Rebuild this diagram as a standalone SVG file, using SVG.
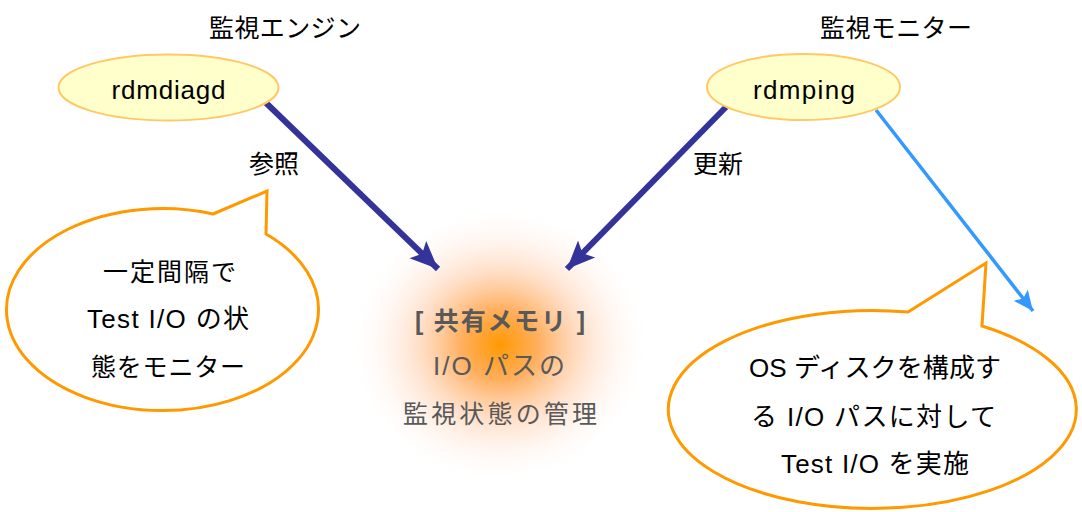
<svg xmlns="http://www.w3.org/2000/svg" width="1082" height="512" viewBox="0 0 1082 512">
<style>
text{font-family:"Liberation Sans","Noto Sans CJK JP",sans-serif;fill:#000;text-anchor:middle;font-size:25px}
.L{font-size:26px}
.c{fill:#595959}
.proc{fill:#FFFFCC;stroke:#FFC966;stroke-width:2}
.bub{fill:#fff;stroke:#FF9900;stroke-width:3;stroke-linejoin:miter}
.dk{stroke:#333399;stroke-width:6;fill:none}
.lt{stroke:#3399FF;stroke-width:3.5;fill:none}
</style>
<defs>
<radialGradient id="glow" cx="0.5" cy="0.5" r="0.5">
<stop offset="0" stop-color="#FF9900" stop-opacity="1"/>
<stop offset="0.25" stop-color="#FFA040" stop-opacity="0.85"/>
<stop offset="0.55" stop-color="#FFC49A" stop-opacity="0.5"/>
<stop offset="0.8" stop-color="#FFE6D8" stop-opacity="0.25"/>
<stop offset="1" stop-color="#FFFFFF" stop-opacity="0"/>
</radialGradient>
<marker id="ad" markerUnits="userSpaceOnUse" markerWidth="30" markerHeight="30" viewBox="0 0 30 30" refX="28" refY="15" orient="auto">
<path d="M0,3 L28,15 L0,27 L6,15 Z" fill="#333399"/>
</marker>
<marker id="al" markerUnits="userSpaceOnUse" markerWidth="22" markerHeight="22" viewBox="0 0 22 22" refX="20" refY="11" orient="auto">
<path d="M0,2 L20,11 L0,20 L4,11 Z" fill="#3399FF"/>
</marker>
</defs>
<rect width="1082" height="512" fill="#fff"/>
<g id="shared-memory">
<ellipse cx="500" cy="345" rx="152" ry="140" fill="url(#glow)"/>
<text class="c" x="500" y="330" font-weight="bold" textLength="170" lengthAdjust="spacing">[  共有メモリ  ]</text>
<text class="c L" x="499" y="375" textLength="132" lengthAdjust="spacing">I/O  パスの</text>
<text class="c" x="500" y="423" textLength="194" lengthAdjust="spacing">監視状態の管理</text>
</g>
<g id="connectors">
<line class="dk" x1="262" y1="99" x2="438" y2="269" marker-end="url(#ad)"/>
<line class="dk" x1="726" y1="107" x2="567" y2="269" marker-end="url(#ad)"/>
<line class="lt" x1="876" y1="110" x2="1033" y2="311" marker-end="url(#al)"/>
<text x="274" y="173">参照</text>
<text x="718" y="173">更新</text>
</g>
<g id="rdmdiagd">
<text x="285" y="37" textLength="152" lengthAdjust="spacing">監視エンジン</text>
<ellipse class="proc" cx="168.5" cy="87.5" rx="110" ry="33"/>
<text class="L" x="168.5" y="99" textLength="114" lengthAdjust="spacing">rdmdiagd</text>
</g>
<g id="rdmping">
<text x="896" y="37" textLength="152" lengthAdjust="spacing">監視モニター</text>
<ellipse class="proc" cx="803.5" cy="87" rx="96.5" ry="33"/>
<text class="L" x="804" y="99" textLength="102" lengthAdjust="spacing">rdmping</text>
</g>
<g id="bubble-left">
<path class="bub" d="M213,214 L267,191 L266,234 A156,101 0 1 1 213,214 Z"/>
<text x="169.5" y="281" textLength="133" lengthAdjust="spacing">一定間隔で</text>
<text class="L" x="168" y="328" textLength="162" lengthAdjust="spacing">Test I/O  の状</text>
<text x="168" y="376" textLength="154" lengthAdjust="spacing">態をモニター</text>
</g>
<g id="bubble-right">
<path class="bub" d="M908,312 L986,263 L982,326 A204,99 0 1 1 908,312 Z"/>
<text class="L" x="875" y="377" textLength="252" lengthAdjust="spacing">OS  ディスクを構成す</text>
<text class="L" x="873.5" y="426" textLength="245" lengthAdjust="spacing">る  I/O  パスに対して</text>
<text class="L" x="875" y="473" textLength="188" lengthAdjust="spacing">Test I/O  を実施</text>
</g>
</svg>
